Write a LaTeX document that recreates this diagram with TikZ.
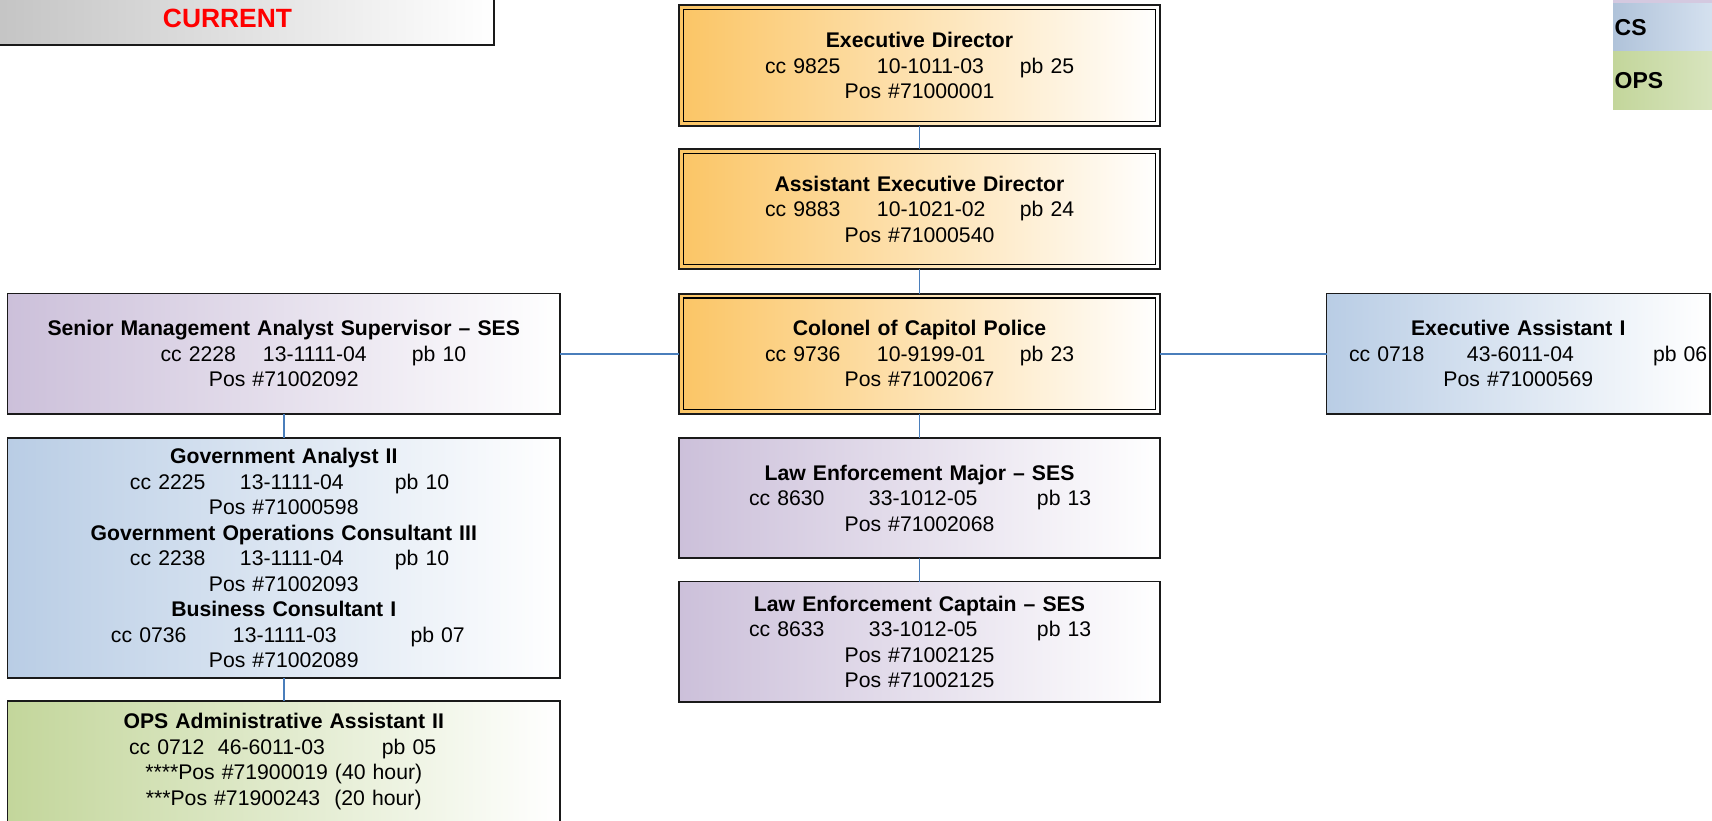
\documentclass[tikz,border=0pt]{standalone}
\usepackage{fontspec}
\setmainfont{Liberation Sans}
\usetikzlibrary{calc}

\definecolor{edgeblue}{HTML}{4A7EBB}
\definecolor{gold}{HTML}{FBC565}
\definecolor{lilac}{HTML}{CCC0DA}
\definecolor{steel}{HTML}{B9CDE5}
\definecolor{sage}{HTML}{C3D69B}
\definecolor{frame}{HTML}{1A1A1A}

% one tabbed line: three pieces set at fixed offsets from the box's left edge
\newcommand\tabrow[6]{\makebox[\linewidth][l]{\hspace*{#1pt}\rlap{#4}\hspace*{\dimexpr#2pt-#1pt\relax}\rlap{#5}\hspace*{\dimexpr#3pt-#2pt\relax}#6}}

\tikzset{
  rolebox/.style={rectangle, draw=frame, line width=1.4pt, inner sep=0pt, outer sep=0pt,
    align=center, font=\fontsize{21.2}{25.5}\selectfont, left color=#1, right color=white},
  chiefbox/.style={rolebox=gold, line width=2pt},
  boxw/.style={minimum width=#1, text width=#1},
  boxh/.style={minimum height=#1},
  link/.style={draw=edgeblue, line width=1.5pt},
  legendband/.style={rectangle, anchor=north west, inner xsep=1.5pt, inner ysep=0pt,
    minimum width=100pt, text width=97pt, align=left,
    font=\bfseries\fontsize{23}{27}\selectfont},
}

\begin{document}
\begin{tikzpicture}[x=1pt, y=-1pt]
\useasboundingbox (0,0) rectangle (1712,821);
\clip (0,0) rectangle (1712,821);

% status panel, top left
\node[rectangle, anchor=south east, draw=frame, line width=2pt, minimum width=540pt,
  minimum height=130pt, left color=black!25, right color=white] (status) at (495,46) {};
\node[text=red, font=\bfseries\fontsize{26.4}{30}\selectfont, inner sep=0pt] (statuslabel)
  at (227.5,18) {CURRENT};

% legend, top right
\fill[lilac!85] (1613,-5) rectangle (1712,3);
\node[legendband, minimum height=48pt, left color=steel!95!black!100, right color=steel!60] (lgcs)
  at (1613,3) {CS};
\node[legendband, minimum height=58pt, left color=sage, right color=sage!65] (lgops)
  at (1613,51) {OPS};

% centre column
\node[chiefbox, boxw=481pt, boxh=121pt] (ed) at (919.5,65.5)
  {\textbf{Executive Director}\\
   \tabrow{86}{198}{341}{cc 9825}{10-1011-03}{pb 25}\\
   Pos \#71000001};
\node[chiefbox, boxw=481pt, boxh=120pt] (aed) at (919.5,209.25)
  {\textbf{Assistant Executive Director}\\
   \tabrow{86}{198}{341}{cc 9883}{10-1021-02}{pb 24}\\
   Pos \#71000540};
\node[chiefbox, boxw=481pt, boxh=120.5pt] (col) at (919.5,353.75)
  {\textbf{Colonel of Capitol Police}\\
   \tabrow{86}{198}{341}{cc 9736}{10-9199-01}{pb 23}\\
   Pos \#71002067};
\node[rolebox=lilac, boxw=481pt, boxh=120pt] (lem) at (919.5,498)
  {\textbf{Law Enforcement Major – SES}\\
   \tabrow{70}{190}{358}{cc 8630}{33-1012-05}{pb 13}\\
   Pos \#71002068};
\node[rolebox=lilac, boxw=481pt, boxh=120.5pt] (lec) at (919.5,641.75)
  {\textbf{Law Enforcement Captain – SES}\\
   \tabrow{70}{190}{358}{cc 8633}{33-1012-05}{pb 13}\\
   Pos \#71002125\\
   Pos \#71002125};

% inner rule of the double frames
\foreach \n in {ed,aed,col}
  \draw[draw=black, line width=1.4pt]
    ([shift={(4.5pt,-4.5pt)}]\n.north west) rectangle ([shift={(-4.5pt,4.5pt)}]\n.south east);

% left column
\node[rolebox=lilac, boxw=552.5pt, boxh=120.5pt] (smas) at (283.75,353.75)
  {\textbf{Senior Management Analyst Supervisor – SES}\\
   \tabrow{153}{255.5}{404.5}{cc 2228}{13-1111-04}{pb 10}\\
   Pos \#71002092};
\node[rolebox=steel, boxw=552.5pt, boxh=240pt] (ga) at (283.75,558)
  {\textbf{Government Analyst II}\\
   \tabrow{122.5}{232.5}{387.5}{cc 2225}{13-1111-04}{pb 10}\\
   Pos \#71000598\\
   \textbf{Government Operations Consultant III}\\
   \tabrow{122.5}{232.5}{387.5}{cc 2238}{13-1111-04}{pb 10}\\
   Pos \#71002093\\
   \textbf{Business Consultant I}\\
   \tabrow{103.5}{225.5}{403}{cc 0736}{13-1111-03}{pb 07}\\
   Pos \#71002089};
\node[rolebox=sage, boxw=552.5pt, boxh=121pt] (opsasst) at (283.75,761.5)
  {\textbf{OPS Administrative Assistant II}\\
   \tabrow{121.5}{210.5}{374.5}{cc 0712}{46-6011-03}{pb 05}\\
   \relax****Pos \#71900019 (40 hour)\\
   \relax***Pos \#71900243\ \ (20 hour)};

% right column
\node[rolebox=steel, boxw=383.5pt, boxh=120.5pt] (ea) at (1518.25,353.75)
  {\textbf{Executive Assistant I}\\
   \tabrow{22.5}{140.5}{326.5}{cc 0718}{43-6011-04}{pb 06}\\
   Pos \#71000569};

% reporting lines
\draw[link] (ed.south) -- (aed.north);
\draw[link] (aed.south) -- (col.north);
\draw[link] (col.south) -- (lem.north);
\draw[link] (lem.south) -- (lec.north);
\draw[link] (col.west) -- (smas.east);
\draw[link] (col.east) -- (ea.west);
\draw[link] (smas.south) -- (ga.north);
\draw[link] (ga.south) -- (opsasst.north);
\end{tikzpicture}
\end{document}
